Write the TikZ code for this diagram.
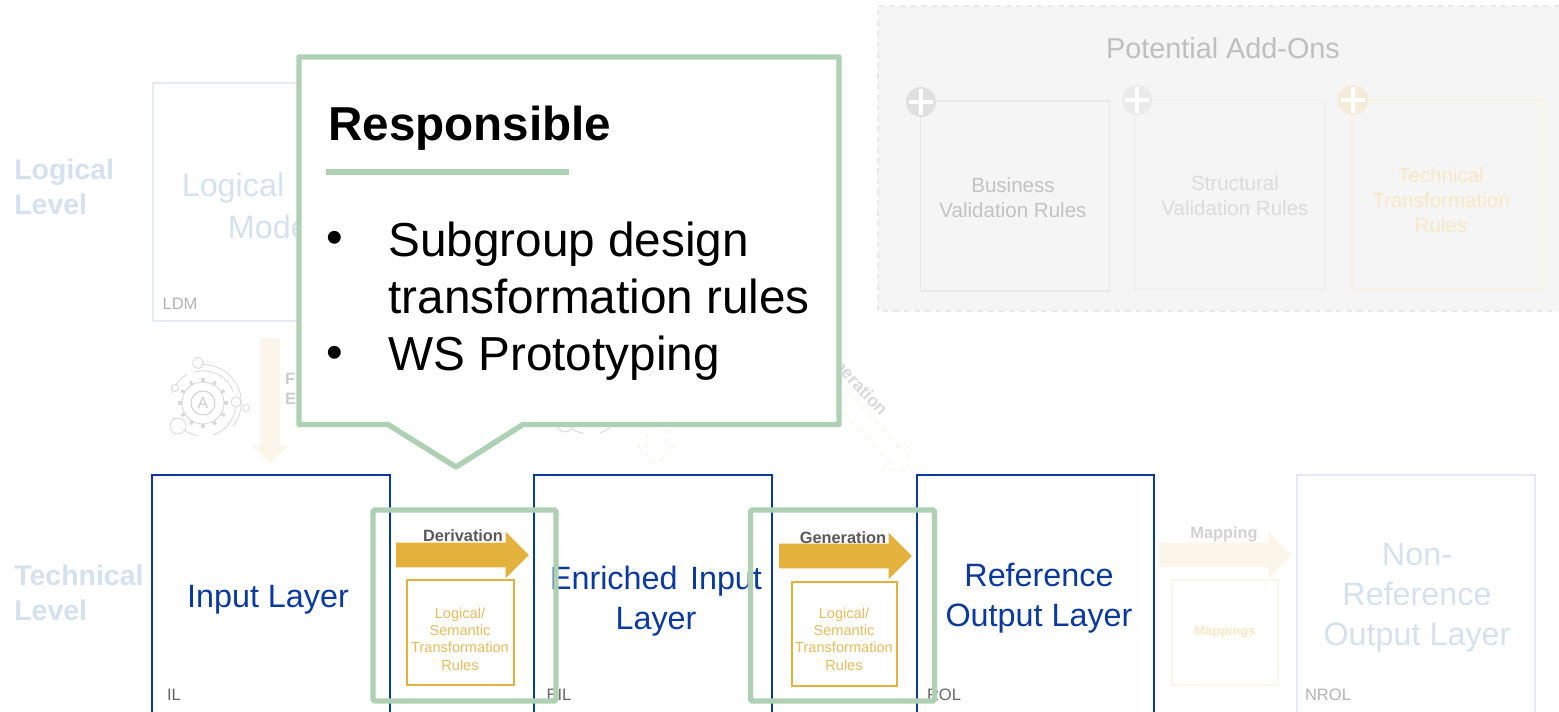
\documentclass[tikz,border=0pt]{standalone}
\usepackage{fontspec}
\setmainfont{Liberation Sans}
\usetikzlibrary{shapes.arrows}

\definecolor{layerblue}{HTML}{0B3A9E}
\definecolor{fadeblue}{HTML}{D6E1EF}
\definecolor{fadeline}{HTML}{E6EAF4}
\definecolor{calloutgreen}{HTML}{AED1B4}
\definecolor{ruleyellow}{HTML}{E3B23C}
\definecolor{ruletext}{HTML}{E6BC5F}
\definecolor{fadeyellow}{HTML}{FBF6E9}
\definecolor{addontext}{HTML}{F8E8C4}
\definecolor{plusyellow}{HTML}{F4ECD9}

\tikzset{
	layertext/.style={text=layerblue,align=center,font=\fontsize{18.4}{22.7}\selectfont},
	fadetext/.style={text=fadeblue,align=center,font=\fontsize{18.4}{22.7}\selectfont},
	leveltext/.style={text=fadeblue,align=left,anchor=west,inner sep=0pt,font=\bfseries\fontsize{16.2}{19.8}\selectfont},
	tagtext/.style={text=#1,font=\fontsize{9.4}{11}\selectfont},
	ruletxt/.style={text=ruletext,align=center,font=\fontsize{8.3}{9.9}\selectfont},
	addtext/.style={text=#1,align=center,font=\fontsize{11.7}{14.2}\selectfont},
	arrowtext/.style={text=#1,font=\bfseries\fontsize{9.3}{11}\selectfont},
	blockarrow/.style={single arrow,draw=none,fill=#1,inner sep=0pt,inner ysep=0.24cm,outer sep=0pt,anchor=tail,
		minimum height=2.66cm,minimum width=0.92cm,single arrow head extend=0.22cm},
	greenframe/.style={draw=calloutgreen,line width=3.1pt,rounded corners=1pt},
	plusmark/.pic={
		\fill[#1] (0,0) circle (15);
		\draw[white,line width=2.6pt] (-12,0) -- (12,0);
		\draw[white,line width=2.6pt] (0,-13) -- (0,13);
	},
	gearicon/.pic={
		\foreach \ang in {0,30,...,330}{
			\draw[gray!30,line width=1.8pt] (\ang:21) -- (\ang:25);
		}
		\draw[gray!30,line width=.5pt] (0,0) circle (21);
		\draw[gray!35,line width=.6pt] (0,0) circle (12);
		\node (-letter) at (0,0) {\textcolor{gray!40}{\fontsize{9}{9}\selectfont A}};
		\draw[gray!30,line width=.5pt] (-5,-38) arc (-98:38:38);
		\draw[gray!30,line width=.5pt] (-31,-10) arc (198:240:33);
		\draw[gray!30,line width=.5pt] (-8,-31) arc (-105:-20:32);
		\draw[gray!30,line width=.5pt] (10,32) arc (72:-5:33);
		\draw[gray!30,line width=.5pt] (-30,14) arc (155:100:33);
		\fill[white,draw=gray!30,line width=.5pt] (-5,-40) circle (5.5);
		\fill[white,draw=gray!30,line width=.5pt] (-28,-15) circle (3.5);
		\fill[white,draw=gray!30,line width=.5pt] (-25,23) circle (8);
		\fill[white,draw=gray!30,line width=.5pt] (33,-1) circle (5);
		\fill[white,draw=gray!30,line width=.5pt] (43,5) circle (3.5);
	}
}

\begin{document}
\begin{tikzpicture}[x=0.02cm,y=-0.02cm,line cap=butt]
		\useasboundingbox (0,0) rectangle (1559,712);

		%potential add-ons
		\fill[black!4] (878,6) rectangle (1559,311);
		\draw[black!9,dashed,line width=.6pt] (1559,6) -| (878,311) -- (1559,311);
		\node (addons) at (1223,48) {\textcolor{black!25}{\fontsize{16.4}{20}\selectfont Potential Add-Ons}};

		\draw[black!9,line width=1pt] (920.5,101) rectangle (1109.5,291);
		\draw[black!6,line width=1pt] (1135,100) rectangle (1325,289);
		\draw[fadeyellow!80!addontext,line width=1pt] (1352,100) rectangle (1542,289);
		\pic at (921,102) {plusmark=black!12};
		\pic at (1137,100) {plusmark=black!8};
		\pic at (1353,100) {plusmark=plusyellow};
		\node[addtext=black!24] (bizrules) at (1013,197.5) {Business\\Validation Rules};
		\node[addtext=black!14] (structrules) at (1235,195.5) {Structural\\Validation Rules};
		\node[addtext=addontext] (techrules) at (1441,200.5) {Technical\\Transformation\\Rules};

		%levels
		\node[leveltext] (logicallevel) at (14,187) {Logical\\Level};
		\node[leveltext] (technicallevel) at (14,593) {Technical\\Level};

		%logical model
		\draw[fadeline,line width=1.2pt] (153,83) rectangle (391,321);
		\node[fadetext] (logicaltxt) at (233,188) {Logical};
		\node[fadetext] (modeltxt) at (272,227) {Model};
		\node[tagtext=black!30] (ldm) at (180,304) {LDM};

		%faint arrows from above
		\node[blockarrow=fadeyellow,inner ysep=0.19cm,minimum height=2.52cm,minimum width=0.72cm,single arrow head extend=0.17cm,
			rotate=-90] (downarrow) at (270,338) {};
		\pic (gearA) at (203,403) {gearicon};
		\pic (gearB) at (590,401) {gearicon};
		\node[align=left,anchor=west,text=black!20,font=\bfseries\fontsize{9.3}{11.3}\selectfont] (fwdtxt) at (279,389) {F\\E};
		\draw[fadeyellow!80!addontext,dashed,line width=.6pt] (647,338) -- (647,446) -- (638,446) -- (656.5,464) -- (675,446) -- (666,446) -- (666,338);
		\draw[fadeyellow!80!addontext,dashed,line width=.6pt] (782,320) -- (902,450) -- (908,447) -- (909,470) -- (883,470) -- (890,462) -- (785,350);
		\node[arrowtext=black!15,anchor=east,rotate=-47] (gentxtB) at (889,417) {\fontsize{10}{12}\selectfont neration};

		%layers
		\draw[layerblue,line width=.9pt] (152,712) |- (390,475) -- (390,712);
		\draw[layerblue,line width=.9pt] (534,712) |- (772,475) -- (772,712);
		\draw[layerblue,line width=.9pt] (917,712) |- (1154,475) -- (1154,712);
		\draw[fadeline,line width=1.2pt] (1297,712) |- (1535,475) -- (1535,712);
		\node[layertext] (inputtxt) at (268,600) {Input Layer};
		\node[layertext] (enrichedtxt) at (656,601) {Enriched\hspace{2pt} Input\\Layer};
		\node[layertext] (reftxt) at (1039,598) {Reference\\Output Layer};
		\node[fadetext] (nonreftxt) at (1417,598) {Non-\\Reference\\Output Layer};
		\node[tagtext=black!60] (il) at (174,695) {IL};
		\node[tagtext=black!60] (eil) at (559,695) {EIL};
		\node[tagtext=black!60] (rol) at (944,695) {ROL};
		\node[tagtext=black!30] (nrol) at (1328,695) {NROL};

		%transformations
		\node[blockarrow=ruleyellow] (derivarrow) at (396,555) {};
		\node[blockarrow=ruleyellow] (genarrow) at (779,556) {};
		\node[blockarrow=fadeyellow] (maparrow) at (1159,555) {};
		\node[arrowtext=black!65] (derivtxt) at (463,536) {Derivation};
		\node[arrowtext=black!65] (gentxt) at (843,538) {Generation};
		\node[arrowtext=black!18] (maptxt) at (1224,534) {Mapping};

		\draw[ruleyellow,line width=1.1pt] (407,580) rectangle (514,685);
		\draw[ruleyellow,line width=1.1pt] (792,582) rectangle (897,686);
		\draw[fadeyellow,line width=1.2pt] (1172,580) rectangle (1278,685);
		\node[ruletxt] (rulesA) at (460,639) {Logical/\\Semantic\\Transformation\\Rules};
		\node[ruletxt] (rulesB) at (844,639) {Logical/\\Semantic\\Transformation\\Rules};
		\node[text=addontext,font=\bfseries\fontsize{7.5}{9}\selectfont] (mappings) at (1225,632) {Mappings};

		\draw[greenframe] (373,510) rectangle (556,701);
		\draw[greenframe] (750.5,510) rectangle (934.5,701);

		%callout
		\draw[calloutgreen,fill=white,line width=3.1pt,line join=round] (299,57) -- (839,57) -- (839,424.5) -- (523,424.5) -- (456,467) -- (388,424.5) -- (299,424.5) -- cycle;
		\draw[calloutgreen,line width=3.4pt] (326,172) -- (568.5,172);
		\node[anchor=base west,inner sep=0pt,font=\bfseries\fontsize{27.1}{33}\selectfont] (resptxt) at (328,140.5) {Responsible};
		\node[inner sep=0pt,font=\fontsize{27}{33}\selectfont] (bulletA) at (335,242) {•};
		\node[anchor=west,align=left,inner sep=0pt,font=\fontsize{27.15}{32.9}\selectfont] (subgrouptxt) at (388,268) {Subgroup design\\transformation rules};
		\node[inner sep=0pt,font=\fontsize{27}{33}\selectfont] (bulletB) at (335,357) {•};
		\node[anchor=base west,inner sep=0pt,font=\fontsize{27.15}{33}\selectfont] (wstxt) at (388,371) {WS Prototyping};
\end{tikzpicture}
\end{document}
